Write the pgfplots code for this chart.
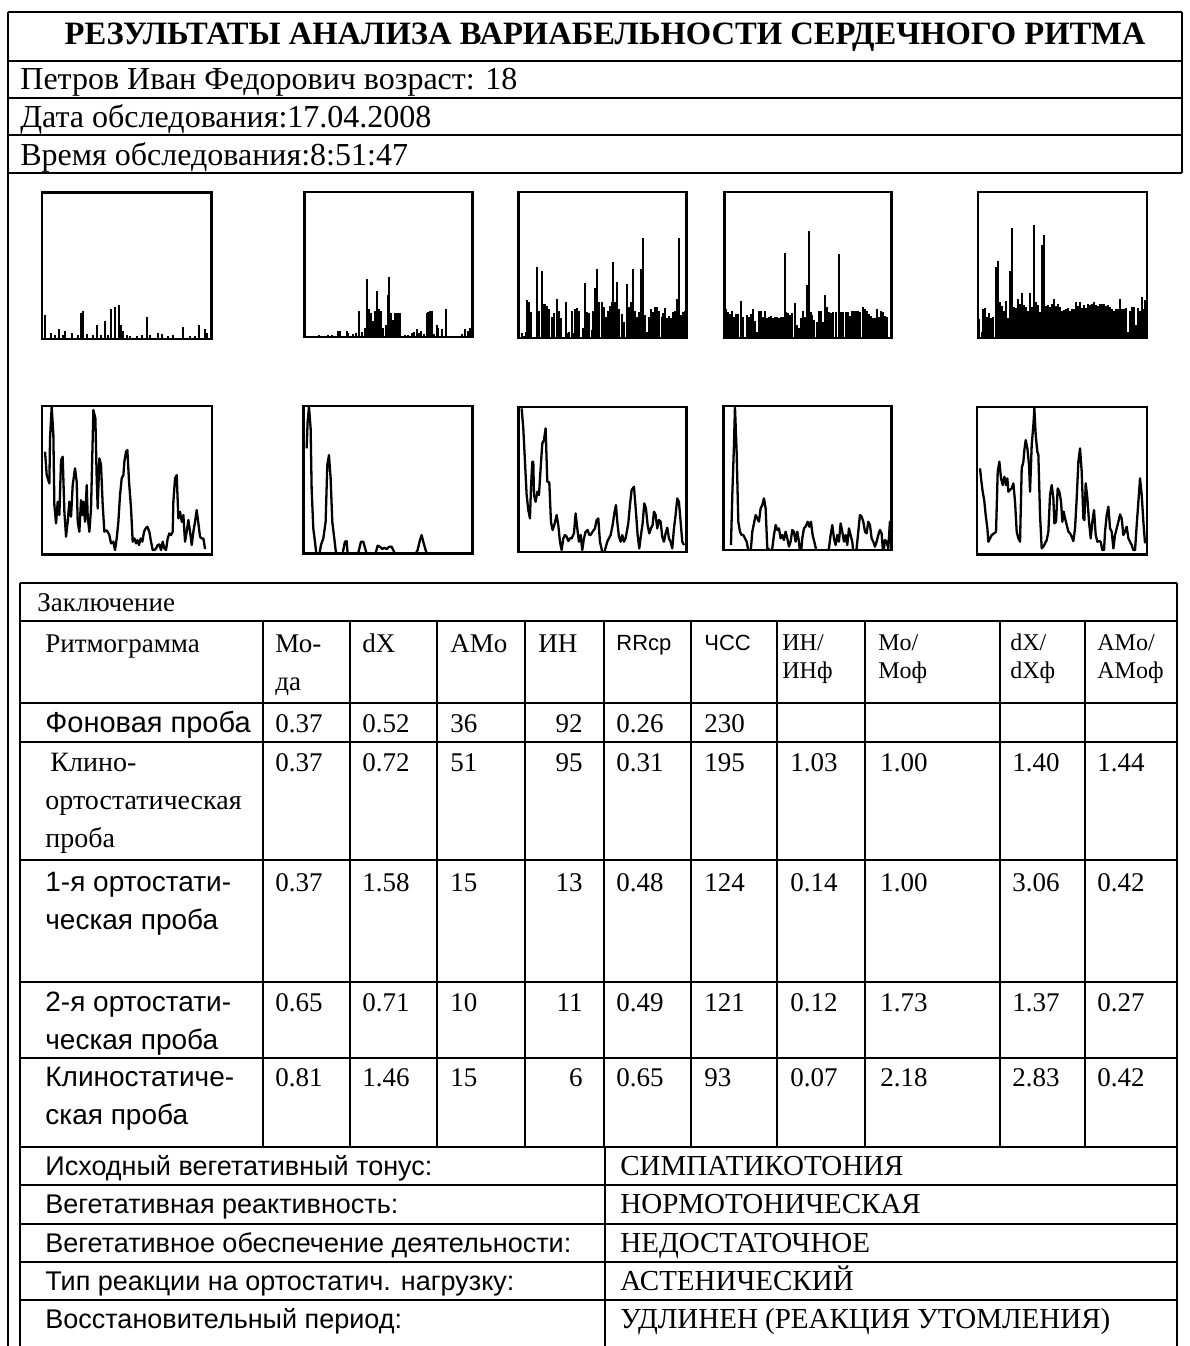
\documentclass[border=0pt]{standalone}
\usepackage{pgfplots}
\pgfplotsset{compat=1.18}
\usepackage{fontspec}
\setmainfont{Liberation Serif}
\newfontfamily\arial{Liberation Sans}
\newcommand\hdr{\fontsize{16}{19}\selectfont}
\newcommand\tbl{\fontsize{13.5}{16}\selectfont}
\newcommand\tsm{\fontsize{12}{14}\selectfont}
\newcommand\lab{\arial\fontsize{14}{16}\selectfont}
\newcommand\labl{\arial\fontsize{13.5}{16}\selectfont}
\newcommand\labs{\fontsize{14}{16}\selectfont}
\newcommand\labv{\fontsize{14.5}{16}\selectfont}
\pgfplotsset{
  mini/.style={anchor=north west, scale only axis, ticks=none,
    axis line style={line width=1.2pt}, clip=true},
  bars/.style={ycomb, black, line width=0.9pt},
  trace/.style={black, line width=1.15pt, mark=none, line join=round},
}
\begin{document}
\begin{tikzpicture}[x=0.5pt,y=-0.5pt]
\useasboundingbox (0,0) rectangle (1190,1346);
% ---------- header frame ----------
\draw[line width=1pt] (8,12) -- (1182,12);
\foreach \yy in {61,98,135,173} \draw[line width=1pt] (8,\yy) -- (1182,\yy);
\draw[line width=1pt] (8,12) -- (8,1346);
\draw[line width=1pt] (1182,12) -- (1182,173);
\node[anchor=base, font=\fontsize{16.3}{19}\selectfont\bfseries] at (605,44) {РЕЗУЛЬТАТЫ АНАЛИЗА ВАРИАБЕЛЬНОСТИ СЕРДЕЧНОГО РИТМА};
\node[anchor=base west, font=\hdr, inner sep=0] at (20,89) {Петров Иван Федорович возраст: 18};
\node[anchor=base west, font=\hdr, inner sep=0] at (20,127) {Дата обследования:17.04.2008};
\node[anchor=base west, font=\hdr, inner sep=0] at (20,165) {Время обследования:8:51:47};

% ---------- top row: bar plots ----------
\begin{axis}[mini, at={(21.15pt,-96.15pt)}, width=84.65pt, height=73.35pt,
  xmin=37, xmax=545, ymin=-4, ymax=436, y filter/.expression={458-y}]
\addplot[bars] table {
45 390
63 445
75 450
88 432
100 450
105 438
125 445
145 450
153 385
160 378
170 448
190 450
202 420
213 450
225 408
235 450
243 372
255 366
267 360
273 420
280 438
290 450
300 452
320 452
335 450
350 396
360 450
385 445
395 448
415 452
430 450
460 426
480 452
495 452
508 420
525 432
532 445
};
\end{axis}

\begin{axis}[mini, at={(152.15pt,-95.85pt)}, width=84.15pt, height=72.5pt,
  xmin=28, xmax=533, ymin=0, ymax=435, y filter/.expression={455-y}]
\addplot[bars] table {
72 450
100 450
110 450
128 437
135 437
155 438
160 445
175 448
182 445
193 378
200 440
210 430
217 283
222 372
228 385
235 408
240 378
247 318
252 372
258 378
265 428
272 420
278 330
283 275
288 385
295 405
300 385
305 385
310 385
315 385
330 450
340 450
350 445
358 442
365 433
372 445
378 438
388 447
395 385
400 380
405 378
410 378
418 447
425 420
430 428
440 432
452 372
500 448
510 433
518 438
525 428
};
\end{axis}

\begin{axis}[mini, at={(259.15pt,-95.85pt)}, width=84.15pt, height=73pt,
  xmin=25, xmax=530, ymin=0, ymax=438, y filter/.expression={458-y}]
\addplot[bars] table {
28 382
35 445
42 452
48 440
52 345
58 352
64 382
70 455
76 455
82 245
88 378
95 258
100 358
105 358
110 362
118 372
125 395
132 383
140 342
147 378
153 400
160 455
167 352
172 445
178 440
185 378
190 445
196 372
202 368
208 378
215 455
220 428
226 293
232 382
238 383
245 435
250 378
255 310
262 252
268 350
275 352
282 365
288 395
295 378
300 362
305 352
310 232
316 352
322 292
328 372
335 388
342 410
350 298
356 365
362 352
368 252
374 378
380 395
386 382
392 252
398 160
405 390
410 442
418 395
424 372
430 380
436 365
442 365
448 378
455 395
460 385
466 368
472 400
478 392
484 400
490 382
496 378
502 342
508 160
514 390
520 380
526 378
};
\end{axis}

\begin{axis}[mini, at={(362.15pt,-95.85pt)}, width=83.65pt, height=73pt,
  xmin=28, xmax=530, ymin=0, ymax=438, y filter/.expression={458-y}]
\addplot[bars] table {
33 372
38 382
45 388
52 378
58 395
64 388
70 388
78 348
84 395
90 455
96 390
102 395
108 388
115 372
120 408
126 440
132 378
138 378
144 395
150 378
156 400
162 395
168 392
175 400
180 395
186 395
192 398
198 395
204 395
209 203
214 382
220 385
226 390
232 385
240 353
246 420
252 428
258 398
264 378
270 395
276 300
281 137
287 382
292 390
298 405
305 410
312 378
318 378
324 410
330 330
336 365
342 380
348 385
355 382
362 382
372 208
378 382
385 382
392 382
398 382
405 392
410 378
416 378
422 378
430 378
436 382
443 365
450 372
456 378
462 388
468 392
474 400
480 400
486 372
492 395
498 378
504 382
510 392
516 395
522 455
528 400
};
\end{axis}

\begin{axis}[mini, at={(488.85pt,-95.85pt)}, width=84.5pt, height=73pt,
  xmin=38, xmax=545, ymin=0, ymax=438, y filter/.expression={458-y}]
\addplot[bars] table {
43 402
50 440
55 372
60 368
66 395
72 385
78 398
85 395
92 245
98 228
104 352
110 362
116 378
122 348
128 400
134 258
140 130
146 365
152 370
158 342
164 358
170 325
176 360
182 365
188 378
194 325
200 365
206 120
212 352
218 360
224 382
230 180
236 150
242 362
248 360
254 365
260 358
266 342
272 362
278 358
284 365
290 378
296 375
302 372
308 368
314 378
320 372
326 372
332 352
338 362
344 352
350 368
356 360
362 368
368 358
374 360
380 358
386 350
392 360
398 362
404 358
410 358
416 358
422 362
428 360
434 365
440 372
446 378
452 372
458 372
464 342
470 372
476 372
482 368
488 440
494 378
500 365
506 365
512 420
518 368
524 378
530 336
536 372
540 345
};
\end{axis}

% ---------- bottom row: line plots ----------
\begin{axis}[mini, at={(20.85pt,-202.85pt)}, width=85pt, height=74.35pt,
  xmin=35, xmax=545, ymin=32, ymax=478, y dir=reverse]
\addplot[trace] table {
45 170
50 240
58 265
60 130
65 35
70 120
73 330
78 385
83 320
88 360
93 195
98 185
103 350
108 425
113 380
118 320
123 365
128 270
135 220
140 260
143 380
148 410
153 315
157 360
160 320
165 380
170 270
173 365
178 410
183 340
188 130
190 45
196 70
200 250
203 340
208 190
213 210
218 330
223 410
228 405
233 410
238 420
243 445
250 440
255 465
260 430
265 380
270 300
275 250
280 240
283 200
288 170
292 165
297 260
303 340
308 440
313 430
318 445
322 435
327 450
332 430
337 440
342 410
347 400
352 395
358 410
363 440
368 465
373 465
378 460
383 450
388 448
393 465
398 440
403 460
408 465
413 430
418 415
423 420
428 410
430 320
435 250
440 240
445 370
450 350
455 380
460 360
465 440
470 410
475 375
480 410
485 450
490 410
495 380
500 345
505 385
510 425
515 430
520 430
525 462
};
\end{axis}

\begin{axis}[mini, at={(151.65pt,-202.85pt)}, width=84.65pt, height=73.85pt,
  xmin=25, xmax=533, ymin=32, ymax=475, y dir=reverse]
\addplot[trace] table {
35 160
38 80
42 35
47 100
50 280
55 400
60 440
68 510
78 450
85 430
92 380
97 210
102 180
107 250
112 380
118 430
122 465
133 520
145 465
150 440
155 438
160 500
180 510
192 465
198 440
205 440
212 465
230 520
248 452
255 455
262 462
268 458
275 462
282 455
290 455
295 465
330 540
368 465
375 435
380 420
385 440
392 465
420 540
533 540
};
\end{axis}

\begin{axis}[mini, at={(259.15pt,-203.35pt)}, width=84.15pt, height=72.5pt,
  xmin=25, xmax=530, ymin=35, ymax=470, y dir=reverse]
\addplot[trace] table {
35 40
40 100
45 200
50 300
55 345
60 370
63 280
67 200
70 200
72 300
77 320
82 290
87 300
92 220
97 145
102 135
107 100
112 260
118 262
123 380
128 405
133 390
140 360
145 390
150 440
155 465
160 430
165 420
170 425
175 438
180 430
185 430
192 415
197 355
202 400
207 440
212 420
217 465
222 430
227 410
233 405
238 420
242 420
248 410
255 400
260 375
265 370
270 440
275 462
280 490
285 465
292 440
297 430
302 420
308 390
313 355
318 330
322 380
327 425
332 440
337 420
342 440
347 430
355 385
360 330
365 285
372 275
378 350
383 420
388 460
393 420
398 385
403 325
408 340
413 390
418 415
423 400
428 390
432 350
437 360
442 400
447 375
452 380
457 425
462 440
467 415
472 398
477 430
482 440
487 460
492 400
497 360
502 310
507 320
512 380
517 440
522 450
};
\end{axis}

\begin{axis}[mini, at={(361.65pt,-202.85pt)}, width=84.15pt, height=72.15pt,
  xmin=25, xmax=530, ymin=32, ymax=465, y dir=reverse]
\addplot[trace] table {
48 450
52 300
57 150
60 35
65 170
70 380
75 410
80 420
85 420
90 430
95 440
98 455
103 490
108 460
112 410
118 380
122 360
127 370
132 380
137 340
142 330
147 310
152 340
157 460
162 462
167 490
172 460
177 420
182 390
187 405
192 400
197 430
202 420
207 435
212 410
217 430
222 455
227 440
232 405
237 410
242 440
247 410
252 440
257 490
262 430
267 400
272 395
278 380
283 395
288 380
293 420
298 440
303 462
320 520
342 460
347 420
352 390
357 430
362 450
367 420
372 440
377 385
382 410
387 440
392 420
397 450
402 400
407 420
412 440
418 500
425 460
430 410
435 360
440 365
445 380
450 410
455 415
460 380
465 390
470 430
475 440
480 455
485 440
490 420
495 405
500 415
505 480
510 435
515 440
520 460
525 380
528 380
};
\end{axis}

\begin{axis}[mini, at={(488.35pt,-203.35pt)}, width=85pt, height=73.85pt,
  xmin=35, xmax=545, ymin=35, ymax=478, y dir=reverse]
\addplot[trace] table {
45 220
48 250
53 290
58 320
62 360
67 400
70 440
75 430
80 420
87 415
93 410
98 230
103 200
108 250
113 270
118 245
123 270
127 250
130 290
135 285
140 280
145 265
150 320
155 410
160 430
165 440
170 220
175 200
178 165
182 135
187 160
192 210
195 290
200 150
205 90
208 40
212 120
217 170
220 180
225 360
230 460
235 455
240 445
245 435
250 410
255 300
260 270
265 310
268 385
273 380
278 280
283 290
288 320
292 380
296 350
300 370
305 390
310 410
315 415
320 425
325 438
330 400
335 310
340 200
345 160
350 230
355 370
358 375
362 265
367 310
372 380
377 430
382 380
387 345
392 420
397 440
402 438
407 440
412 465
417 465
420 410
425 360
430 335
435 400
440 410
445 460
450 420
455 400
460 380
465 358
470 370
475 420
480 410
485 395
490 430
495 440
500 450
505 465
510 465
515 390
520 320
525 250
530 300
535 380
540 445
};
\end{axis}

% ---------- table ----------
\foreach \yy in {583,621,703,742,860,982,1058,1147,1185,1224,1262,1300}
  \draw[line width=0.8pt] (20,\yy) -- (1177,\yy);
\draw[line width=0.8pt] (20,583) -- (20,1346);
\draw[line width=0.8pt] (1177,583) -- (1177,1346);
\foreach \xx in {263,350,437,525,604,691,777,865,1000,1085}
  \draw[line width=0.8pt] (\xx,621) -- (\xx,1147);
\draw[line width=0.8pt] (605,1147) -- (605,1346);

\tikzset{c/.style={anchor=base west, inner sep=0, font=\tbl},
         r/.style={anchor=base east, inner sep=0, font=\tbl},
         s/.style={anchor=base west, inner sep=0, font=\tsm},
         l/.style={anchor=base west, inner sep=0, font=\lab},
         ll/.style={anchor=base west, inner sep=0, font=\labl},
         ls/.style={anchor=base west, inner sep=0, font=\labs},
         lv/.style={anchor=base west, inner sep=0, font=\labv}}
\node[c] at (37,611) {Заключение};
\node[c] at (45,652) {Ритмограмма};
\node[c] at (275,652) {Мо-};
\node[c] at (275,690) {да};
\node[c] at (362,652) {dX};
\node[c] at (450,652) {AMo};
\node[c] at (538,652) {ИН};
\node[s,font=\arial\fontsize{11}{13}\selectfont] at (616,650) {RRcp};
\node[s,font=\arial\fontsize{11}{13}\selectfont] at (704,650) {ЧСС};
\node[s] at (782,650) {ИН/};
\node[s] at (782,678) {ИНф};
\node[s] at (878,650) {Mo/};
\node[s] at (878,678) {Moф};
\node[s] at (1010,650) {dX/};
\node[s] at (1010,678) {dXф};
\node[s] at (1097,650) {AMo/};
\node[s] at (1097,678) {AMoф};

\node[l,font=\arial\fontsize{14.5}{16}\selectfont] at (45,732) {Фоновая проба};
\node[ls] at (50,771) {Клино-};
\node[ls] at (45,809) {ортостатическая};
\node[ls] at (45,847) {проба};
\node[l] at (45,891) {1-я ортостати-};
\node[l] at (45,929) {ческая проба};
\node[l] at (45,1011) {2-я ортостати-};
\node[l] at (45,1049) {ческая проба};
\node[l] at (45,1086) {Клиностатиче-};
\node[l] at (45,1124) {ская проба};

% values
\foreach \y/\a/\b/\c/\d/\e/\f/\g/\h/\i/\j in {
  732/0.37/0.52/36/92/0.26/230/{}/{}/{}/{},
  771/0.37/0.72/51/95/0.31/195/1.03/1.00/1.40/1.44,
  891/0.37/1.58/15/13/0.48/124/0.14/1.00/3.06/0.42,
  1011/0.65/0.71/10/11/0.49/121/0.12/1.73/1.37/0.27,
  1086/0.81/1.46/15/6/0.65/93/0.07/2.18/2.83/0.42}{
  \node[c] at (275,\y) {\a};
  \node[c] at (362,\y) {\b};
  \node[c] at (450,\y) {\c};
  \node[r] at (583,\y) {\d};
  \node[c] at (616,\y) {\e};
  \node[c] at (704,\y) {\f};
  \node[c] at (790,\y) {\g};
  \node[c] at (880,\y) {\h};
  \node[c] at (1012,\y) {\i};
  \node[c] at (1097,\y) {\j};
}

\node[ll] at (45,1175) {Исходный вегетативный тонус:};
\node[ll] at (45,1213) {Вегетативная реактивность:};
\node[ll] at (45,1252) {Вегетативное обеспечение деятельности:};
\node[ll] at (45,1290) {Тип реакции на ортостатич. нагрузку:};
\node[ll] at (45,1328) {Восстановительный период:};
\node[lv] at (620,1175) {СИМПАТИКОТОНИЯ};
\node[lv] at (620,1213) {НОРМОТОНИЧЕСКАЯ};
\node[lv] at (620,1252) {НЕДОСТАТОЧНОЕ};
\node[lv] at (620,1290) {АСТЕНИЧЕСКИЙ};
\node[lv] at (620,1328) {УДЛИНЕН (РЕАКЦИЯ УТОМЛЕНИЯ)};
\end{tikzpicture}
\end{document}
